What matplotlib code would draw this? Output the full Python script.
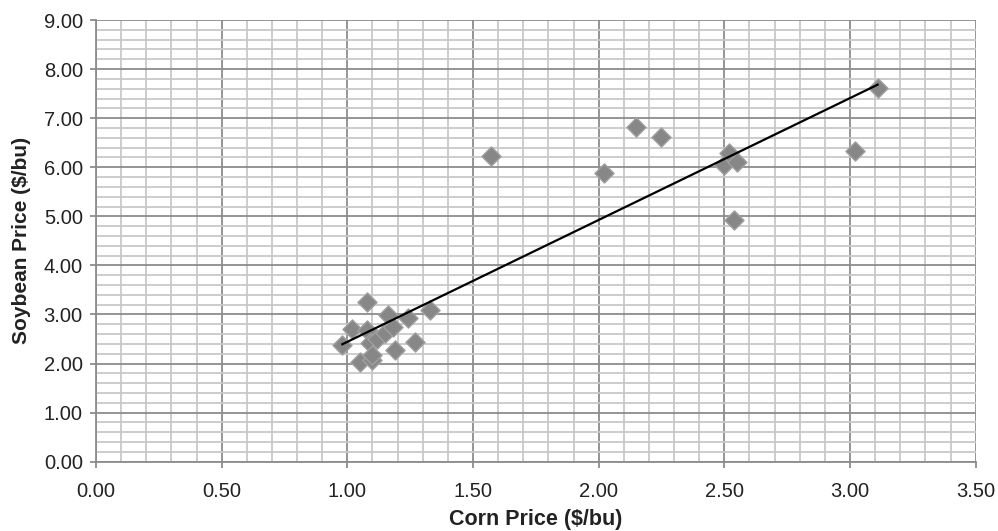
import numpy as np
import matplotlib
matplotlib.use('Agg')
import matplotlib.pyplot as plt
from matplotlib.ticker import MultipleLocator, FormatStrFormatter

plt.rcParams['font.family'] = ['Liberation Sans', 'DejaVu Sans']

# corn vs soybean prices ($/bu)
corn = [0.98, 1.02, 1.05, 1.08, 1.08, 1.09, 1.10, 1.10, 1.12, 1.15, 1.16, 1.18,
        1.19, 1.24, 1.27, 1.33, 1.57, 2.02, 2.15, 2.25, 2.50, 2.52, 2.55, 2.54,
        3.02, 3.11]
soy = [2.37, 2.70, 2.04, 3.25, 2.68, 2.41, 2.07, 2.17, 2.51, 2.62, 2.99, 2.75,
       2.28, 2.92, 2.43, 3.09, 6.23, 5.89, 6.81, 6.61, 6.05, 6.30, 6.11, 4.92,
       6.34, 7.62]

fig = plt.figure(figsize=(9.98, 5.31), dpi=100)
ax = fig.add_axes([0.0962, 0.1305, 0.8814, 0.8318])

ax.set_xlim(0, 3.5)
ax.set_ylim(0, 9)
ax.xaxis.set_major_locator(MultipleLocator(0.5))
ax.xaxis.set_minor_locator(MultipleLocator(0.1))
ax.yaxis.set_major_locator(MultipleLocator(1))
ax.yaxis.set_minor_locator(MultipleLocator(0.2))
ax.xaxis.set_major_formatter(FormatStrFormatter('%.2f'))
ax.yaxis.set_major_formatter(FormatStrFormatter('%.2f'))

ax.grid(which='minor', color='#c8c8c8', lw=1.3)
ax.grid(which='major', color='#8c8c8c', lw=1.3)
ax.set_axisbelow(True)

for s in ['top', 'right']:
    ax.spines[s].set_visible(False)
for s in ['left', 'bottom']:
    ax.spines[s].set_color('#8c8c8c')
    ax.spines[s].set_linewidth(1.3)

ax.tick_params(which='major', direction='out', length=4.5, width=1.3, color='#8c8c8c',
               labelsize=14.5, labelcolor='#222222')
ax.tick_params(axis='x', pad=10)
ax.tick_params(axis='y', pad=5)
ax.tick_params(which='minor', length=0)

ax.scatter(corn, soy, marker='D', s=95, color='#878787', edgecolor='#a0a0a0', lw=1, zorder=3)

# linear trend line
k, b = np.polyfit(corn, soy, 1)
xs = np.array([min(corn), max(corn)])
ax.plot(xs, k * xs + b, color='black', lw=1.6, zorder=4)

ax.set_xlabel('Corn Price ($/bu)', fontsize=15.5, fontweight='bold', labelpad=6, color='#222222')
ax.set_ylabel('Soybean Price ($/bu)', fontsize=15, fontweight='bold', labelpad=9, color='#222222')

fig.savefig('out.png', dpi=100)
